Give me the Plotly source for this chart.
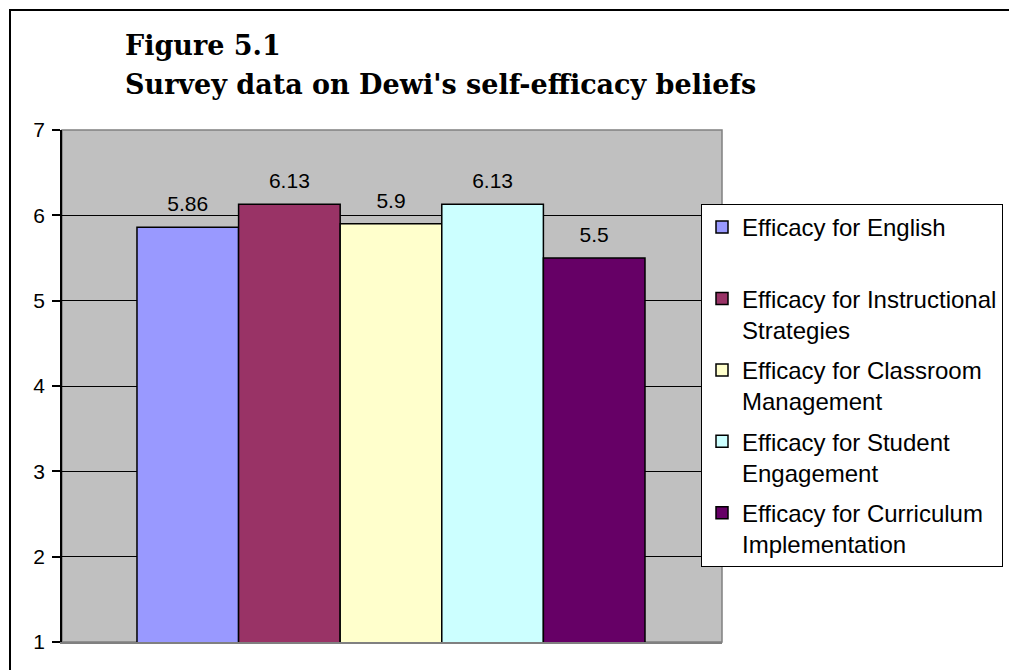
import plotly.graph_objects as go

title_lines = ["Figure 5.1", "Survey data on Dewi's self-efficacy beliefs"]
series_names = [
    "Efficacy for English<br>\u00a0",
    "Efficacy for Instructional<br>Strategies",
    "Efficacy for Classroom<br>Management",
    "Efficacy for Student<br>Engagement",
    "Efficacy for Curriculum<br>Implementation",
]
values = [5.86, 6.13, 5.9, 6.13, 5.5]
value_labels = ["5.86", "6.13", "5.9", "6.13", "5.5"]
colors = ["#9999FF", "#993366", "#FFFFCC", "#CCFFFF", "#660066"]
y_ticks = [1, 2, 3, 4, 5, 6, 7]

SANS = "Liberation Sans, Arial, sans-serif"
SERIF = "DejaVu Serif, serif"

fig = go.Figure()
for i, (name, v, c) in enumerate(zip(series_names, values, colors)):
    fig.add_trace(go.Bar(
        x=[i], y=[v], name=name, width=1, legendgroup=f"g{i}",
        marker=dict(color=c, line=dict(color="black", width=1.5)),
        hoverinfo="skip",
    ))

fig.add_trace(go.Scatter(
    x=list(range(len(values))), y=values, text=value_labels,
    mode="markers+text", textposition="top center",
    marker=dict(size=16, opacity=0),
    textfont=dict(family=SANS, size=21, color="black"),
    showlegend=False, hoverinfo="skip", cliponaxis=False,
))

# plot area: x 62..722 px, y 130..642 px
px_x = lambda p: (p - 62) / 660
px_y = lambda p: (642 - p) / 512

annotations = [
    dict(text=f"<b>{title_lines[0]}</b>", xref="paper", yref="paper",
         x=px_x(123), y=px_y(45), xanchor="left", yanchor="middle", showarrow=False,
         font=dict(family=SERIF, size=27, color="black")),
    dict(text=f"<b>{title_lines[1]}</b>", xref="paper", yref="paper",
         x=px_x(123), y=px_y(84), xanchor="left", yanchor="middle", showarrow=False,
         font=dict(family=SERIF, size=27, color="black")),
]

fig.update_layout(
    width=1009, height=670,
    margin=dict(l=62, r=287, t=130, b=28, autoexpand=False),
    paper_bgcolor="white", plot_bgcolor="#C0C0C0",
    showlegend=True,
    annotations=annotations,
    legend=dict(
        x=px_x(701), xanchor="left", y=px_y(204), yanchor="top",
        bgcolor="white", bordercolor="black", borderwidth=1,
        font=dict(family=SANS, size=24, color="black"),
        valign="top", traceorder="grouped", tracegroupgap=6,
    ),
    xaxis=dict(
        range=[-1.238, 5.258], showticklabels=False, ticks="",
        showgrid=False, zeroline=False,
        showline=True, linecolor="#808080", linewidth=1.5,
    ),
    yaxis=dict(
        range=[1, 7], tickvals=y_ticks, ticks="outside", ticklen=8,
        tickcolor="black", tickwidth=1.5, ticklabelstandoff=3,
        showgrid=True, gridcolor="black", gridwidth=1,
        zeroline=False, showline=True, linecolor="black", linewidth=1.5,
        tickfont=dict(family=SANS, size=21, color="black"),
    ),
    shapes=[
        dict(type="rect", xref="paper", yref="paper", x0=0, x1=1, y0=0, y1=1,
             line=dict(color="#808080", width=1.5), layer="below"),
        dict(type="rect", xref="paper", yref="paper",
             x0=px_x(10), x1=2, y0=-1, y1=px_y(10),
             line=dict(color="black", width=2), layer="above"),
    ],
)

fig.write_html("out.html", config={"displayModeBar": False},
               post_script="document.body.style.margin='0px';")
